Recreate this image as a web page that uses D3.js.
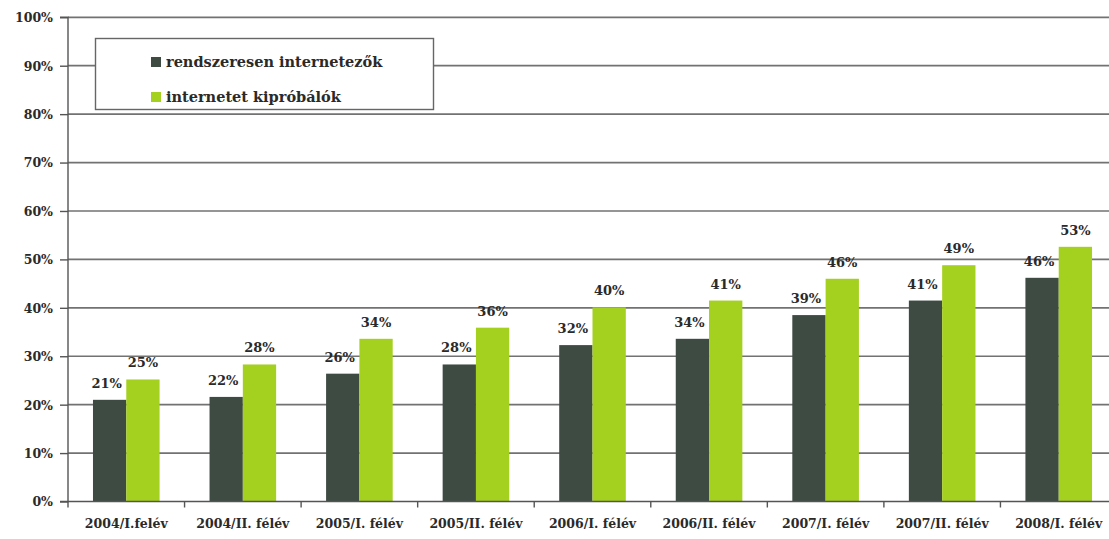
<!DOCTYPE html>
<html>
<head>
<meta charset="utf-8">
<script src="https://cdn.jsdelivr.net/npm/d3@7/dist/d3.min.js"></script>
<style>
  html, body { margin: 0; padding: 0; background: #fff; overflow: hidden; }
  svg { display: block; }
  text { font-family: "DejaVu Serif", "Liberation Serif", serif; font-weight: bold; fill: #2a2a2a; }
</style>
</head>
<body>
<svg id="chart" width="1109" height="539"></svg>
<script>
const categories = ["2004/I.felév", "2004/II. félév", "2005/I. félév", "2005/II. félév", "2006/I. félév", "2006/II. félév", "2007/I. félév", "2007/II. félév", "2008/I. félév"];
const seriesNames = ["rendszeresen internetezők", "internetet kipróbálók"];
const regular = [21.0, 21.6, 26.4, 28.3, 32.3, 33.6, 38.5, 41.5, 46.2];
const tried = [25.2, 28.3, 33.6, 35.9, 40.1, 41.5, 46.0, 48.8, 52.6];
const regularLabels = ["21%", "22%", "26%", "28%", "32%", "34%", "39%", "41%", "46%"];
const triedLabels = ["25%", "28%", "34%", "36%", "40%", "41%", "46%", "49%", "53%"];
const yTicks = [0, 10, 20, 30, 40, 50, 60, 70, 80, 90, 100];
const colors = ["#3e4b43", "#a4d01f"];

const svg = d3.select("#chart");
const mLeft = 68, mRight = 1117, mTop = 17.3, mBottom = 501.5;

const x = d3.scaleBand().domain(categories).range([mLeft, mRight]).paddingInner(0).paddingOuter(0);
const xs = d3.scaleBand().domain([0, 1]).range([0, x.bandwidth()]).paddingInner(0).paddingOuter(0.75);
const y = d3.scaleLinear().domain([0, 100]).range([mBottom, mTop]);

// gridlines
svg.append("g").selectAll("line").data(yTicks.filter(d => d > 0)).join("line")
  .attr("x1", mLeft).attr("x2", 1109)
  .attr("y1", d => y(d)).attr("y2", d => y(d))
  .attr("stroke", "#727272").attr("stroke-width", 1.7);

// y axis
const yAxis = d3.axisLeft(y).tickValues(yTicks).tickFormat(d => d + "%").tickSize(8).tickPadding(7);
const gy = svg.append("g").attr("transform", `translate(${mLeft},0)`).call(yAxis);
gy.select(".domain").attr("stroke", "#555").attr("stroke-width", 1.4).attr("d", `M-8,${mTop}H0V${mBottom}H-8`);
gy.selectAll(".tick line").attr("stroke", "#555").attr("stroke-width", 1.4);
gy.selectAll(".tick text").style("font-family", "DejaVu Serif").style("font-weight", "bold")
  .style("font-size", "12.5px").attr("fill", "#2a2a2a").attr("dy", "0.35em");

// bars
const groups = svg.append("g").selectAll("g").data(categories).join("g")
  .attr("transform", d => `translate(${x(d)},0)`);
const vals = [regular, tried];
const labs = [regularLabels, triedLabels];
[0, 1].forEach(s => {
  groups.append("rect")
    .attr("x", xs(s)).attr("width", xs.bandwidth())
    .attr("y", (d, i) => y(vals[s][i]))
    .attr("height", (d, i) => mBottom - y(vals[s][i]))
    .attr("fill", colors[s]);
});
[0, 1].forEach(s => {
  groups.append("text")
    .attr("x", xs(s) + xs.bandwidth() / 2 - (s === 0 ? 3 : 0))
    .attr("y", (d, i) => y(vals[s][i]) - 12)
    .attr("text-anchor", "middle")
    .style("font-size", "13px")
    .text((d, i) => labs[s][i]);
});

// x axis
const xAxis = d3.axisBottom(x).tickSize(0).tickPadding(18);
const gx = svg.append("g").attr("transform", `translate(0,${mBottom})`).call(xAxis);
gx.select(".domain").attr("stroke", "#555").attr("stroke-width", 1.7).attr("d", `M${mLeft},0H1109`);
gx.selectAll(".tick text").style("font-family", "DejaVu Serif").style("font-weight", "bold")
  .style("font-size", "12.5px").attr("fill", "#2a2a2a");
// boundary ticks
svg.append("g").selectAll("line").data(categories).join("line")
  .attr("x1", d => x(d)).attr("x2", d => x(d))
  .attr("y1", mBottom).attr("y2", mBottom + 6)
  .attr("stroke", "#555").attr("stroke-width", 1.4);

// legend
const lg = svg.append("g");
lg.append("rect").attr("x", 95.5).attr("y", 38.5).attr("width", 338).attr("height", 71)
  .attr("fill", "#fff").attr("stroke", "#666").attr("stroke-width", 1.4);
seriesNames.forEach((n, i) => {
  const cy = 62 + i * 35;
  lg.append("rect").attr("x", 151).attr("y", cy - 5).attr("width", 10).attr("height", 10).attr("fill", colors[i]);
  lg.append("text").attr("x", 166).attr("y", cy + 5).style("font-size", "14.5px").text(n);
});
</script>
</body>
</html>
